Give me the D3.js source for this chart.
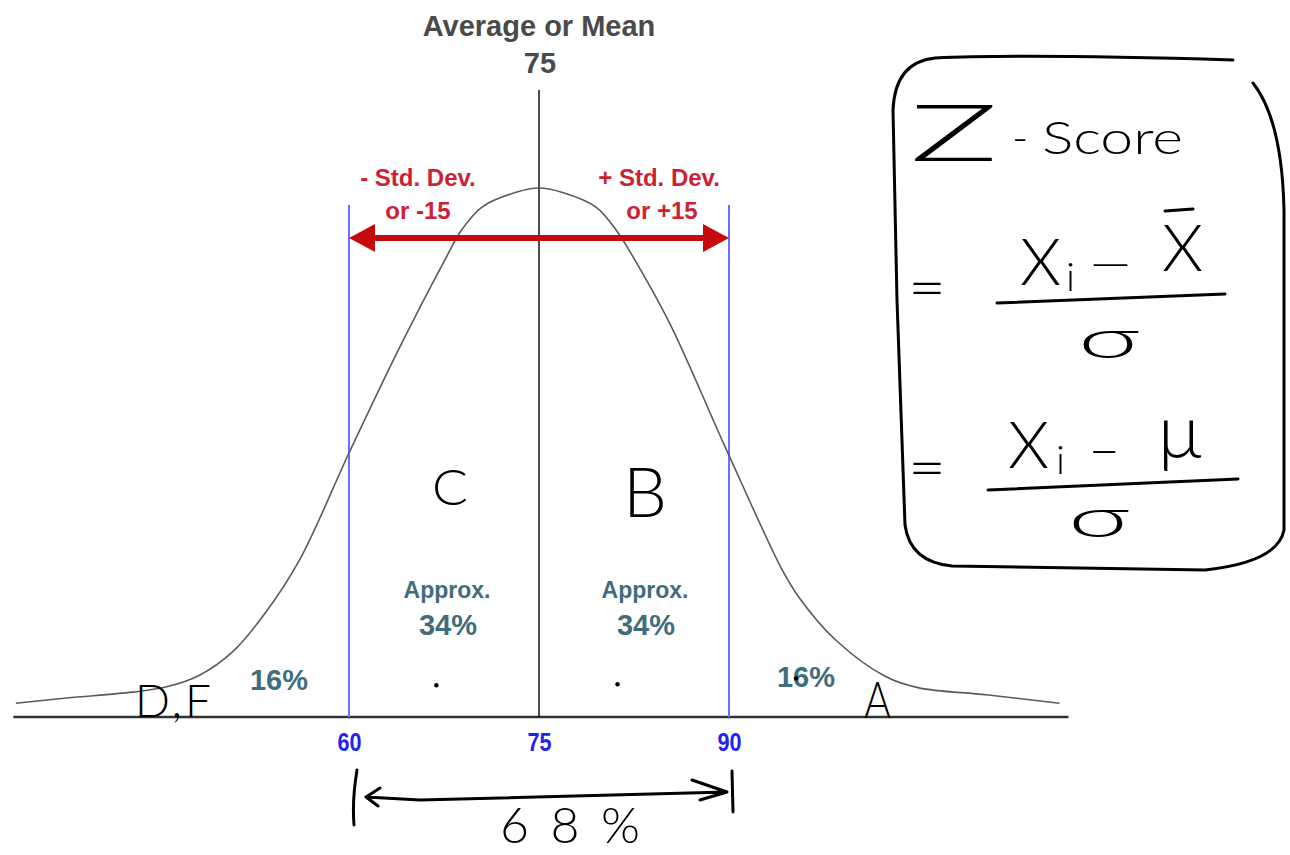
<!DOCTYPE html>
<meta charset="utf-8">
<style>
body { margin: 0; background: #fff; }
svg { display: block; }
.curve { fill: none; stroke: #5a5a5a; stroke-width: 1.6; }
.base { stroke: #333; stroke-width: 2.5; }
.sd { stroke: #6d6dff; stroke-width: 2; }
.mean { stroke: #111; stroke-width: 1.5; }
.title { font-family: "Liberation Sans", Arial, sans-serif; font-weight: bold; fill: #4a4a4a; text-anchor: middle; }
.red { font-family: "Liberation Sans", Arial, sans-serif; font-weight: bold; fill: #cc2233; text-anchor: middle; }
.teal { font-family: "Liberation Sans", Arial, sans-serif; font-weight: bold; fill: #3f6d7c; text-anchor: middle; }
.hand { font-family: Lato, "DejaVu Sans", sans-serif; font-weight: 300; fill: #000; }
.ink { fill: none; stroke: #000; stroke-width: 3; stroke-linecap: round; stroke-linejoin: round; }
.tick text { font-family: "Liberation Sans", Arial, sans-serif; font-weight: bold; font-size: 26px; fill: #2323f0; }
</style>
<svg width="1290" height="855"></svg>
<script src="https://d3js.org/d3.v7.min.js"></script>
<script>

// curve: score and height (% of peak)
var curveScores  = [33.7, 37.7, 42.9, 45.6, 48.2, 50.8, 53.4, 56.1, 60.0, 63.9, 67.7, 68.9, 70.5, 73.2, 75.0,
                    76.8, 79.5, 81.2, 82.1, 85.3, 89.8, 94.2, 95.5, 98.4, 102.4, 105.0, 110.3, 116.1];
var curveHeights = [2.6, 3.6, 4.7, 5.7, 7.9, 12.3, 19.7, 29.7, 49.9, 69.4, 87.0, 92.1, 96.4, 99.2, 100,
                    99.2, 96.4, 91.7, 88.3, 74.5, 50.5, 27.8, 22.7, 14.6, 7.6, 5.5, 4.2, 2.6];

var mean = 75;
var stdLines = [60, 90];
var tickValues = [60, 75, 90];
var axisExtent = [33.5, 116.8];

var areaPct = ["Approx.", "34%"];
var tailPct = "16%";
var grades = ["D,F", "C", "B", "A"];
var spanPct = "68%";

var svg = d3.select("svg");

var x = d3.scaleLinear().domain([60, 90]).range([349, 729]);
var y = d3.scaleLinear().domain([0, 100]).range([717, 188]);

// baseline
svg.append("line")
    .attr("class", "base")
    .attr("x1", x(axisExtent[0])).attr("x2", x(axisExtent[1]))
    .attr("y1", y(0)).attr("y2", y(0));

// std dev lines + mean line
svg.selectAll(".sd")
  .data(stdLines)
  .enter().append("line")
    .attr("class", "sd")
    .attr("x1", d => x(d)).attr("x2", d => x(d))
    .attr("y1", 205).attr("y2", y(0));

svg.append("line")
    .attr("class", "mean")
    .attr("x1", x(mean)).attr("x2", x(mean))
    .attr("y1", 90).attr("y2", y(0));

// the bell curve
var line = d3.line()
    .x(d => x(d[0]))
    .y(d => y(d[1]))
    .curve(d3.curveCatmullRom.alpha(0.5));

svg.append("path")
    .datum(d3.zip(curveScores, curveHeights))
    .attr("class", "curve")
    .attr("d", line);

// tick labels
var ax = svg.append("g")
    .attr("class", "tick")
    .attr("transform", "translate(0," + y(0) + ")")
    .call(d3.axisBottom(x).tickValues(tickValues).tickSize(0).tickPadding(16));
ax.select(".domain").remove();
ax.selectAll("text")
    .attr("font-size", null).attr("font-family", null).attr("fill", null)
    .attr("textLength", 24).attr("lengthAdjust", "spacingAndGlyphs");

// title
svg.append("text").attr("class", "title")
    .attr("x", x(mean)).attr("y", 36).attr("font-size", 29)
    .text("Average or Mean");
svg.append("text").attr("class", "title")
    .attr("x", x(mean) + 1).attr("y", 73).attr("font-size", 29)
    .text(mean);

// red std dev arrow
var ay = 238;
svg.append("line")
    .attr("x1", x(stdLines[0]) + 20).attr("x2", x(stdLines[1]) - 20)
    .attr("y1", ay).attr("y2", ay)
    .attr("stroke", "#c40a0a").attr("stroke-width", 6);
svg.append("path")
    .attr("fill", "#c40a0a")
    .attr("d", "M" + x(60) + "," + ay + "L" + (x(60) + 26) + "," + (ay - 14) + "L" + (x(60) + 26) + "," + (ay + 14) + "Z" +
               "M" + x(90) + "," + ay + "L" + (x(90) - 26) + "," + (ay - 14) + "L" + (x(90) - 26) + "," + (ay + 14) + "Z");

var sdText = [["- Std. Dev.", "or -" + (mean - stdLines[0])], ["+ Std. Dev.", "or +" + (stdLines[1] - mean)]];
var sdCx = [418, 659];
sdText.forEach(function(t, i) {
  svg.append("text").attr("class", "red").attr("font-size", 24)
      .attr("x", sdCx[i]).attr("y", 186).text(t[0]);
  svg.append("text").attr("class", "red").attr("font-size", 24)
      .attr("x", sdCx[i] + (i ? 3 : 0)).attr("y", 219).text(t[1]);
});

// percentages
[447, 645].forEach(function(cx) {
  svg.append("text").attr("class", "teal").attr("font-size", 23)
      .attr("x", cx).attr("y", 598).text(areaPct[0]);
  svg.append("text").attr("class", "teal").attr("font-size", 29)
      .attr("x", cx + 1).attr("y", 635).text(areaPct[1]);
});
svg.append("text").attr("class", "teal").attr("font-size", 29)
    .attr("x", 279).attr("y", 690).text(tailPct);
svg.append("text").attr("class", "teal").attr("font-size", 29)
    .attr("x", 806).attr("y", 687).text(tailPct);

// handwritten grades
svg.append("text").attr("class", "hand").attr("font-size", 46)
    .attr("x", 135).attr("y", 717).attr("textLength", 76).attr("lengthAdjust", "spacing")
    .text(grades[0]);
svg.append("text").attr("class", "hand").attr("font-size", 50)
    .attr("x", 432).attr("y", 505).attr("textLength", 36).attr("lengthAdjust", "spacingAndGlyphs")
    .text(grades[1]);
svg.append("text").attr("class", "hand").attr("font-size", 68)
    .attr("x", 623).attr("y", 517).attr("textLength", 44).attr("lengthAdjust", "spacingAndGlyphs")
    .text(grades[2]);
svg.append("text").attr("class", "hand").attr("font-size", 52)
    .attr("x", 864).attr("y", 718).attr("textLength", 27).attr("lengthAdjust", "spacingAndGlyphs")
    .text(grades[3]);

// stray pen dots
svg.selectAll(".dot")
  .data([[66.9, 6.0], [81.2, 6.2], [95.3, 7.3]])
  .enter().append("circle")
    .attr("cx", d => x(d[0])).attr("cy", d => y(d[1])).attr("r", 2.2).attr("fill", "#000");

// 68% span under the axis
svg.append("path").attr("class", "ink")
    .attr("d", "M357,770 Q352,800 354,825 M366,797 L420,800 L727,792 M380,788 L366,797 L378,806 M692,780 L727,792 L700,800 M732,771 L733,812");
svg.append("text").attr("class", "hand").attr("font-size", 50)
    .attr("x", 500).attr("y", 843).attr("textLength", 140).attr("lengthAdjust", "spacing")
    .text(spanPct);

// Z-score box
svg.append("path").attr("class", "ink")
    .attr("d", "M1233,60 C1100,56 1000,55 935,58 Q895,62 893,110 L897,300 L905,525 Q910,562 952,566 L1205,570 Q1278,562 1284,530 L1284,210 Q1282,120 1253,83");

svg.append("text").attr("class", "hand").attr("font-size", 78)
    .attr("x", 910).attr("y", 161).attr("textLength", 88).attr("lengthAdjust", "spacingAndGlyphs").text("Z");
svg.append("text").attr("class", "hand").attr("font-size", 44)
    .attr("x", 1012).attr("y", 153).text("-");
svg.append("text").attr("class", "hand").attr("font-size", 46)
    .attr("x", 1042).attr("y", 154).attr("textLength", 141).attr("lengthAdjust", "spacingAndGlyphs").text("Score");

function formula(eqY, num) {
  svg.append("text").attr("class", "hand").attr("font-size", 60)
      .attr("x", 908).attr("y", eqY).attr("textLength", 38).attr("lengthAdjust", "spacingAndGlyphs").text("=");
  var t = svg.append("text").attr("class", "hand");
  t.append("tspan").attr("x", num.xs[0]).attr("y", num.ys[0]).attr("font-size", 66).text("X");
  t.append("tspan").attr("x", num.xs[1]).attr("y", num.ys[1]).attr("font-size", 40).text("i");
  t.append("tspan").attr("x", num.xs[2]).attr("y", num.ys[2]).attr("font-size", num.dashSize).text(num.dash);
  t.append("tspan").attr("x", num.xs[3]).attr("y", num.ys[3]).attr("font-size", num.lastSize).text(num.sym);
  svg.append("path").attr("class", "ink").attr("d", num.bar);
  svg.append("text").attr("class", "hand").attr("font-size", 56)
      .attr("x", num.sigma[0]).attr("y", num.sigma[1]).attr("textLength", 62).attr("lengthAdjust", "spacingAndGlyphs").text("σ");
}

formula(308, { xs: [1020, 1066, 1090, 1162], ys: [285, 291, 280, 271], dash: "—", dashSize: 52, lastSize: 66, sym: "X",
               bar: "M997,303 L1225,294 M1165,211 L1193,209", sigma: [1078, 358] });
formula(488, { xs: [1008, 1056, 1088, 1158], ys: [468, 474, 468, 458], dash: "–", dashSize: 56, lastSize: 74, sym: "μ",
               bar: "M988,490 L1238,479", sigma: [1068, 537] });

</script>
